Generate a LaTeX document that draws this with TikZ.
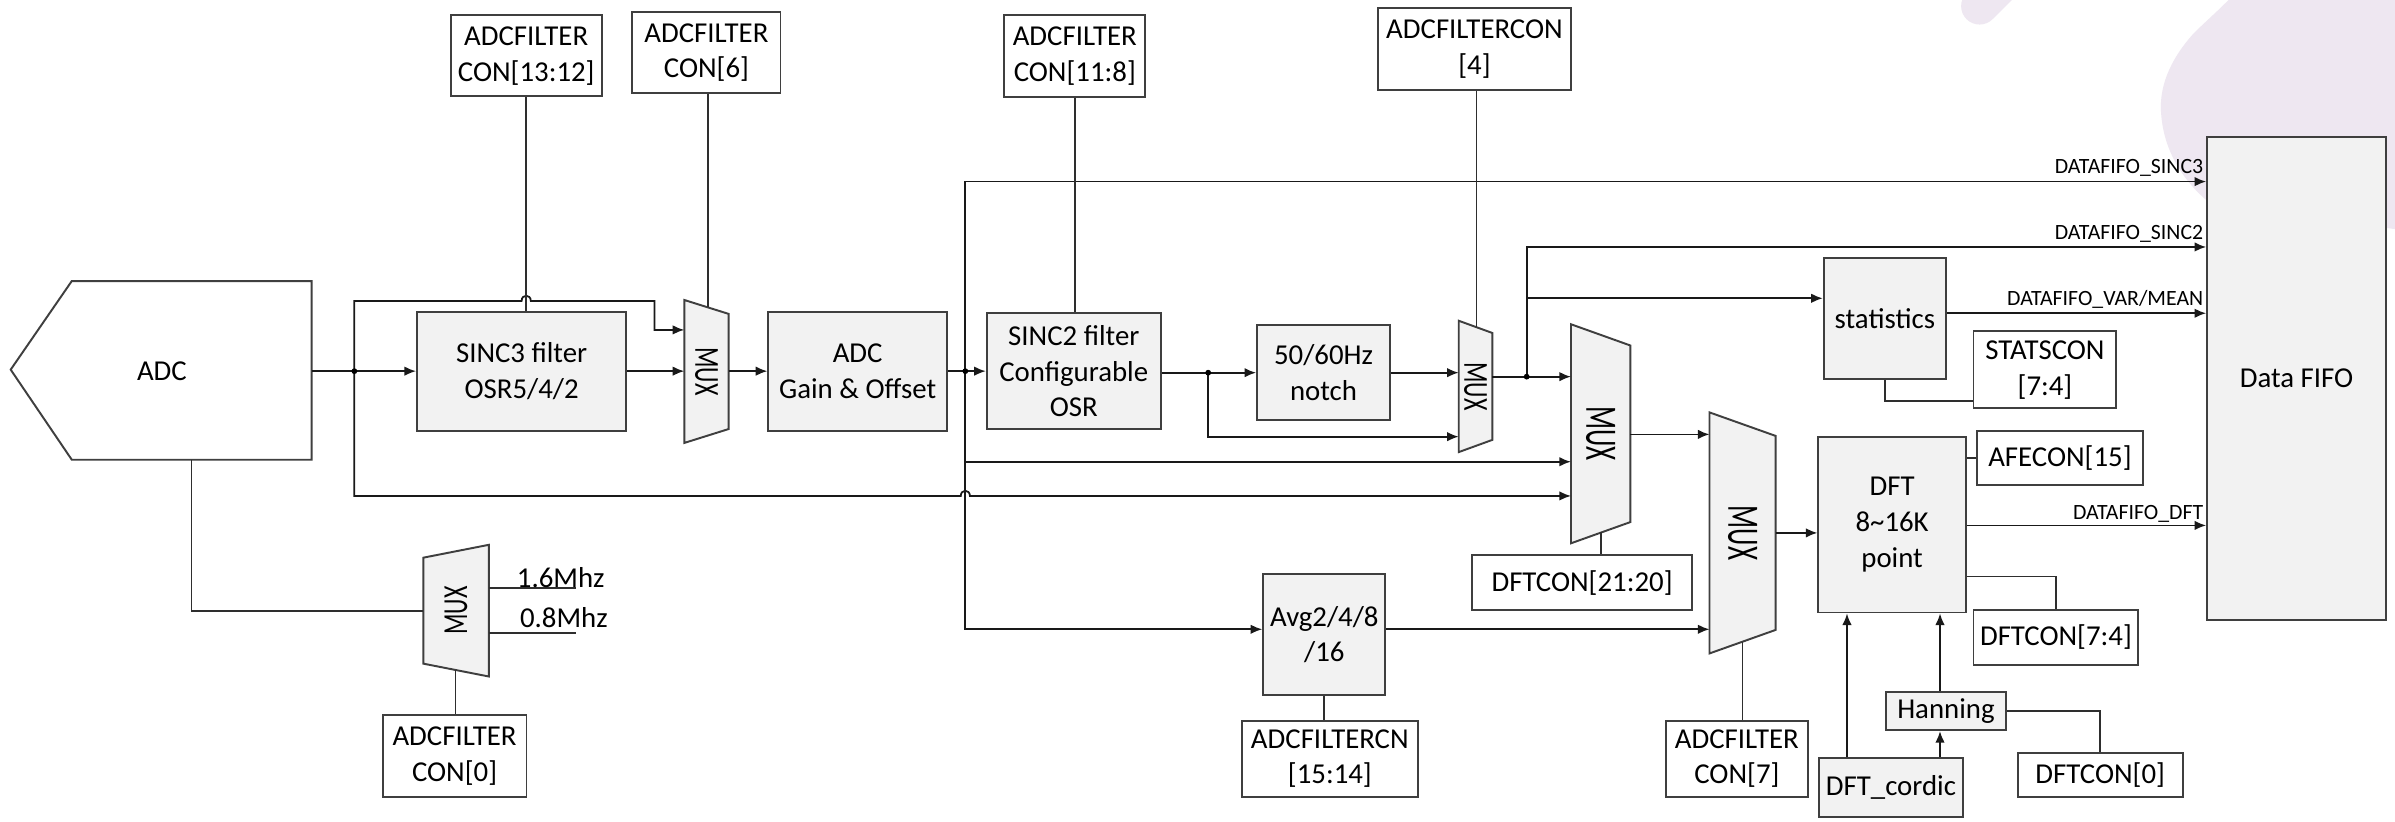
\documentclass[tikz,border=0pt]{standalone}
\usepackage{fontspec}
\setmainfont{Carlito}
\usetikzlibrary{arrows.meta,calc}

\definecolor{boxgray}{HTML}{F2F2F2}
\definecolor{lav}{HTML}{EEE7F1}
\definecolor{edgegray}{HTML}{3F3F3F}

\def\U{0.015274cm}
\newcommand\mainfs{\fontsize{8.2}{10.2}\selectfont}
\newcommand\lblfs{\fontsize{6.2}{7}\selectfont}

\tikzset{
  wire/.style={draw=black!90, line width=0.5pt},
  arr/.style={wire, -{Latex[length=3.3pt,width=2.7pt]}},
  ctl/.style={draw=black!82, line width=0.5pt},
  grayblk/.style={draw=edgegray, line width=0.55pt, fill=boxgray, inner sep=0pt, align=center, font=\mainfs},
  regblk/.style={draw=edgegray, line width=0.55pt, fill=white, inner sep=0pt, align=center, font=\mainfs},
  muxline/.style={draw=edgegray, line width=0.55pt, fill=boxgray},
  lbl/.style={inner sep=0pt, font=\lblfs},
  txt/.style={inner sep=0pt, font=\mainfs},
  dot/.style={fill=black}
}

% rectangular block from its corners: name, x1, y1, x2, y2, style, text
\newcommand\blk[7]{%
  \node[#6, minimum width={(#4-#2)*\U}, minimum height={(#5-#3)*\U}]
    (#1) at ({(#2+#4)/2},{(#3+#5)/2}) {#7};}

% multiplexer trapezoid: name, x left, x right, y centre, half height left,
% half height right, text angle, font size, text squeeze
\newcommand\muxblk[9]{%
  \coordinate (#1-tl) at (#2,{#4-#5});
  \coordinate (#1-bl) at (#2,{#4+#5});
  \coordinate (#1-tr) at (#3,{#4-#6});
  \coordinate (#1-br) at (#3,{#4+#6});
  \coordinate (#1-w) at (#2,#4);
  \coordinate (#1-e) at (#3,#4);
  \draw[muxline] (#1-tl) -- (#1-tr) -- (#1-br) -- (#1-bl) -- cycle;
  \node[inner sep=0pt] (#1) at ({(#2+#3)/2},#4)
    {\rotatebox{#7}{\scalebox{#9}[1]{\fontsize{#8}{#8}\selectfont MUX}}};}

\begin{document}
\begin{tikzpicture}[x=\U, y=-\U]
\useasboundingbox (0,0) rectangle (1568,538);
\fill[white] (0,0) rectangle (1568,538);

% faint decoration in the upper right corner
\begin{scope}
  \clip (0,0) rectangle (1568,538);
  \fill[lav] (1459,0) .. controls (1450,9) and (1442,16) .. (1436,22)
    .. controls (1420,40) and (1413,58) .. (1415,76)
    .. controls (1417,98) and (1428,118) .. (1448,134)
    -- (1568,150) -- (1568,0) -- cycle;
  \draw[lav, line width=10.5pt, line cap=round] (1296,4) -- (1336,-36);
\end{scope}

% ---------------- ADC front end ----------------
\draw[draw=edgegray, line width=0.55pt, fill=white]
  (7,242) -- (47,184) -- (204,184) -- (204,301) -- (47,301) -- cycle;
\node[txt] (adc) at (106,243) {ADC};
\coordinate (adc-e) at (204,243);
\coordinate (adc-s) at (125.3,301);

% ---------------- blocks ----------------
\blk{sinc3}{273}{204}{410}{282}{grayblk}{SINC3 filter\\OSR5/4/2}
\blk{gain}{503}{204}{620}{282}{grayblk}{ADC\\Gain \& Offset}
\blk{sinc2}{646}{205}{760}{281}{grayblk}{SINC2 filter\\Configurable\\OSR}
\blk{notch}{823}{213}{910}{275}{grayblk}{50/60Hz\\notch}
\blk{stats}{1194}{169}{1274}{248}{grayblk}{statistics}
\blk{avg}{827}{376}{907}{455}{grayblk}{Avg2/4/8\\/16}
\blk{dft}{1190.5}{286}{1287}{401}{grayblk}{DFT\\8\textasciitilde16K\\point}
\blk{hann}{1235}{453}{1313}{478}{grayblk}{Hanning}
\blk{cordic}{1191}{496.5}{1285}{535}{grayblk}{DFT\_cordic}
\blk{fifo}{1445}{89.5}{1562}{406}{grayblk}{Data FIFO}

% register boxes
\blk{cf1312}{295}{10}{394}{63}{regblk}{ADCFILTER\\CON[13:12]}
\blk{cf6}{414}{8}{511}{61}{regblk}{ADCFILTER\\CON[6]}
\blk{cf118}{657.6}{9.8}{749.7}{63.3}{regblk}{ADCFILTER\\CON[11:8]}
\blk{cf4}{902}{5.5}{1028.7}{59}{regblk}{ADCFILTERCON\\{[4]}}
\blk{cf0}{250.5}{468}{344.7}{521.6}{regblk}{ADCFILTER\\CON[0]}
\blk{cn1514}{813}{471.8}{928.3}{521.6}{regblk}{ADCFILTERCN\\{[15:14]}}
\blk{d2120}{963.5}{363.4}{1108}{399.4}{regblk}{DFTCON[21:20]}
\blk{cf7}{1090.4}{471.8}{1183.8}{521.6}{regblk}{ADCFILTER\\CON[7]}
\blk{statscon}{1292}{217}{1385.6}{267.3}{regblk}{STATSCON\\{[7:4]}}
\blk{afecon}{1294.4}{282}{1402.8}{317.7}{regblk}{AFECON[15]}
\blk{d74}{1292}{399.4}{1400}{435.4}{regblk}{DFTCON[7:4]}
\blk{d0}{1321}{492.8}{1429}{521.6}{regblk}{DFTCON[0]}

% ---------------- multiplexers ----------------
\muxblk{m1}{448}{477}{243.2}{46.8}{37.7}{-90}{10}{0.68}
\muxblk{m3}{955}{977}{253}{43}{35}{-90}{10}{0.68}
\muxblk{m2}{1028.5}{1067.4}{284}{71.7}{57.8}{-90}{12.8}{0.6}
\muxblk{m4}{1119.2}{1162.5}{348.9}{78.9}{63.5}{-90}{12.8}{0.6}
\muxblk{m0}{277.2}{320}{399.8}{34.7}{43.1}{90}{10}{0.68}

% ---------------- junctions and bus levels ----------------
\coordinate (j1) at (232,243);
\coordinate (j2) at (632,243);
\coordinate (j3) at (791,244);
\coordinate (j4) at (999.5,246.6);
\coordinate (hi1) at (428.5,197);
\coordinate (hi2) at (428.5,216);
\coordinate (lo1) at (232,324.7);
\coordinate (ys3) at (632,118.9);
\coordinate (yb2) at (632,302.3);
\coordinate (yav) at (632,412);
\coordinate (nb) at (791,285.9);
\coordinate (ys2) at (999.5,161.7);
\coordinate (yst) at (999.5,195.3);
\coordinate (yvm) at (1274,205.1);
\coordinate (ystc) at (0,262.5);
\coordinate (y24) at (0,284.4);
\coordinate (ydft) at (0,344);
\coordinate (y74) at (0,377.5);
\coordinate (xc) at (1209.2,0);
\coordinate (xh) at (1270.1,0);
\coordinate (f16) at (377.4,385.2);
\coordinate (f08) at (377.4,414.2);

% ---------------- signal path ----------------
\draw[wire] (adc-e) -- (j1);
\draw[arr] (j1) -- (sinc3.west |- j1);
\draw[arr] (sinc3.east |- j1) -- (m1-w |- j1);
\draw[arr] (m1-e |- j1) -- (gain.west |- j1);
\draw[wire] (gain.east |- j2) -- (j2);
\draw[arr] (j2) -- (sinc2.west |- j2);
\draw[wire] (sinc2.east |- j3) -- (j3);
\draw[arr] (j3) -- (notch.west |- j3);
\draw[arr] (notch.east |- j3) -- (m3-w |- j3);
\draw[arr] (j3) -- (nb) -- (m3-w |- nb);

% SINC3 bypass, hopping over the register line
\draw[arr] (j1) -- (j1 |- hi1) -- (341.5,197)
  .. controls (341.5,192.5) and (347.5,192.5) .. (347.5,197)
  -- (hi1) -- (hi2) -- (m1-w |- hi2);
% raw ADC data to the DFT selector, hopping over the SINC3 bus
\draw[arr] (j1) -- (lo1) -- (629,324.7)
  .. controls (629,320.2) and (635,320.2) .. (635,324.7) -- (m2-w |- lo1);

% SINC3 output bus
\draw[arr] (j2) -- (ys3) -- (fifo.west |- ys3);
\draw[arr] (j2) -- (yb2) -- (m2-w |- yb2);
\draw[arr] (j2) -- (yav) -- (avg.west |- yav);

% SINC2 / notch output
\draw[wire] (m3-e |- j4) -- (j4);
\draw[arr] (j4) -- (m2-w |- j4);
\draw[arr] (j4) -- (ys2) -- (fifo.west |- ys2);
\draw[arr] (yst) -- (stats.west |- yst);
\draw[arr] (stats.east |- yvm) -- (fifo.west |- yvm);

% DFT path
\draw[arr] (m2-e |- y24) -- (m4-w |- y24);
\draw[arr] (avg.east |- yav) -- (m4-w |- yav);
\draw[arr] (m4-e) -- (dft.west |- m4-e);
\draw[arr] (dft.east |- ydft) -- (fifo.west |- ydft);
\draw[arr] (cordic.north -| xc) -- (dft.south -| xc);
\draw[arr] (cordic.north -| xh) -- (hann.south -| xh);
\draw[arr] (hann.north -| xh) -- (dft.south -| xh);

% junction dots
\foreach \j in {j1,j2,j3,j4} \fill[dot] (\j) circle[radius=1.9];

% FIFO channel labels
\node[lbl, anchor=base east] (ls3) at ($(fifo.west |- ys3)+(-1.5,-5.5)$) {DATAFIFO\_SINC3};
\node[lbl, anchor=base east] (ls2) at ($(fifo.west |- ys2)+(-1.5,-5)$) {DATAFIFO\_SINC2};
\node[lbl, anchor=base east] (lvm) at ($(fifo.west |- yvm)+(-1.5,-5.4)$) {DATAFIFO\_VAR/MEAN};
\node[lbl, anchor=base east] (ldft) at ($(fifo.west |- ydft)+(-1.5,-3.6)$) {DATAFIFO\_DFT};

% ---------------- register control lines ----------------
\draw[ctl] (cf1312.south) -- (cf1312.south |- sinc3.north);
\coordinate (m1c) at ($(m1-tl)!0.54!(m1-tr)$);
\draw[ctl] (m1c |- cf6.south) -- (m1c);
\draw[ctl] (cf118.south) -- (cf118.south |- sinc2.north);
\coordinate (m3c) at ($(m3-tl)!0.53!(m3-tr)$);
\draw[ctl] (m3c |- cf4.south) -- (m3c);
\coordinate (m2c) at ($(m2-bl)!0.51!(m2-br)$);
\draw[ctl] (m2c) -- (m2c |- d2120.north);
\coordinate (m4c) at ($(m4-bl)!0.5!(m4-br)$);
\draw[ctl] (m4c) -- (m4c |- cf7.north);
\coordinate (m0c) at ($(m0-bl)!0.49!(m0-br)$);
\draw[ctl] (m0c) -- (m0c |- cf0.north);
\draw[ctl] (avg.south) -- (avg.south |- cn1514.north);
\draw[ctl] (stats.south) -- (stats.south |- ystc) -- (statscon.west |- ystc);
\draw[ctl] (dft.east |- afecon.west) -- (afecon.west);
\draw[ctl] (dft.east |- y74) -| (d74.north);
\draw[ctl] (hann.east) -| (d0.north);

% ---------------- ADC clock selection ----------------
\draw[ctl] (adc-s) |- (m0-w);
\draw[ctl] (m0-e |- f16) -- (f16);
\draw[ctl] (m0-e |- f08) -- (f08);
\node[txt, anchor=base west] (l16) at (338,384.5) {1.6Mhz};
\node[txt, anchor=base west] (l08) at (340,410.5) {0.8Mhz};

\end{tikzpicture}
\end{document}
